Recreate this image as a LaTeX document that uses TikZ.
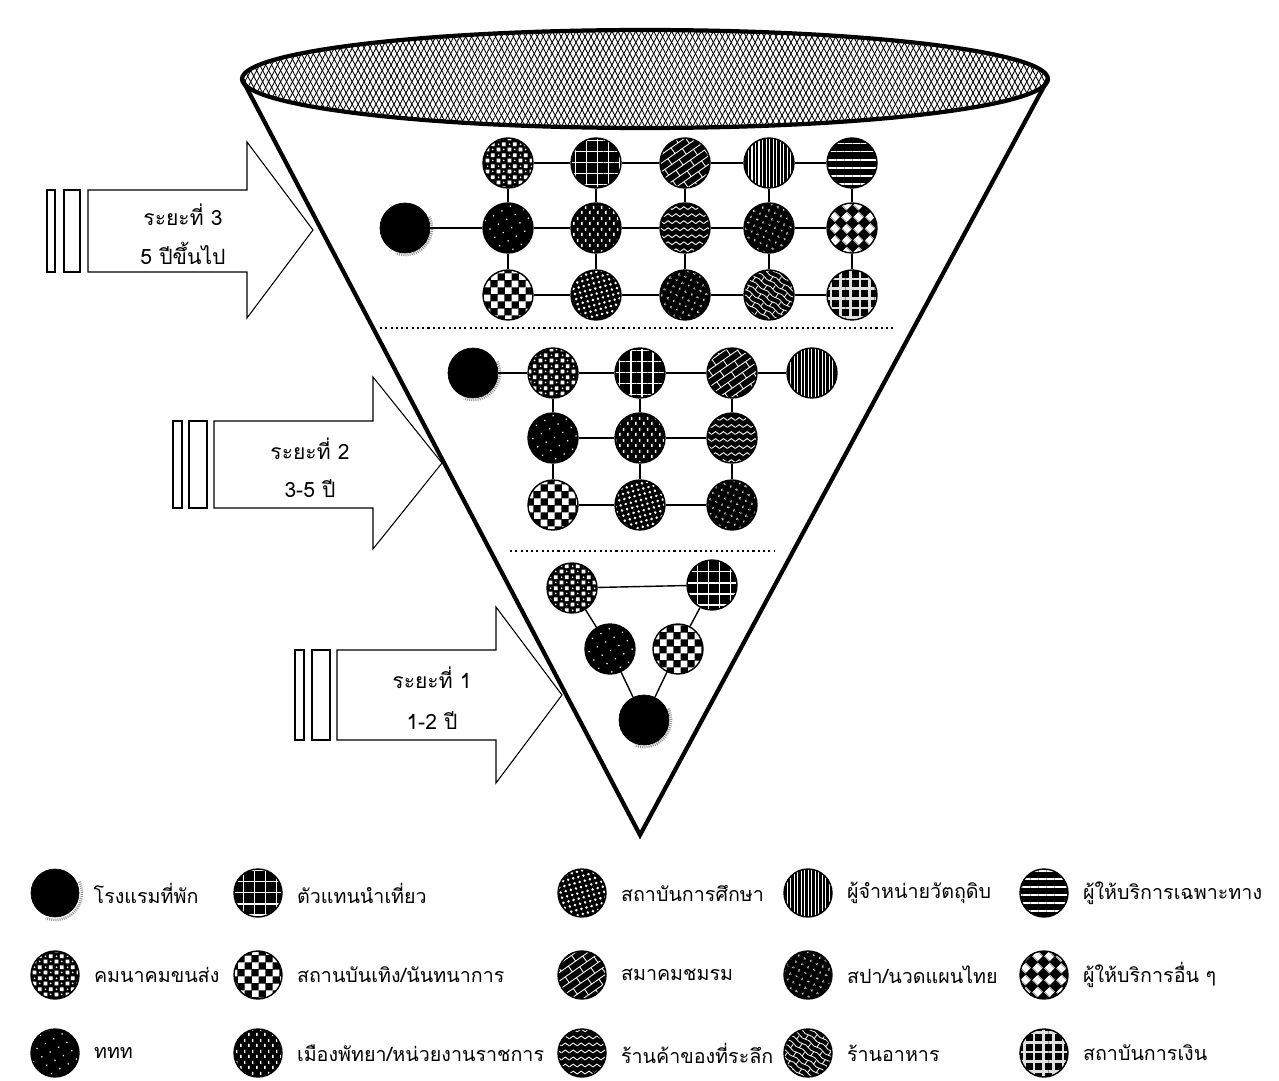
\documentclass[tikz,border=0pt]{standalone}
\usepackage{fontspec}
\newfontfamily\thaifont[Script=Thai]{Loma}
\usetikzlibrary{patterns, patterns.meta, positioning}

% ลายวงกลม (ขาวบนดำ)
\pgfdeclarepattern{
  name=chequer,
  bottom left={\pgfpointorigin},
  top right={\pgfpoint{8pt}{8pt}},
  tile size={\pgfpoint{8pt}{8pt}},
  code={
    \pgfpathrectangle{\pgfpointorigin}{\pgfpoint{4pt}{4pt}}
    \pgfpathrectangle{\pgfpoint{4pt}{4pt}}{\pgfpoint{4pt}{4pt}}
    \pgfusepath{fill}
  }
}
\pgfdeclarepattern{
  name=diamonds,
  bottom left={\pgfpointorigin},
  top right={\pgfpoint{9.6pt}{9.6pt}},
  tile size={\pgfpoint{9.6pt}{9.6pt}},
  tile transformation={\pgftransformrotate{45}},
  code={
    \pgfpathrectangle{\pgfpoint{0.3pt}{0.3pt}}{\pgfpoint{4.2pt}{4.2pt}}
    \pgfpathrectangle{\pgfpoint{5.1pt}{5.1pt}}{\pgfpoint{4.2pt}{4.2pt}}
    \pgfusepath{fill}
  }
}
\pgfdeclarepattern{
  name=confetti,
  bottom left={\pgfpointorigin},
  top right={\pgfpoint{6pt}{6pt}},
  tile size={\pgfpoint{6pt}{6pt}},
  code={
    \pgfpathrectangle{\pgfpoint{0.4pt}{0.4pt}}{\pgfpoint{2.2pt}{2.2pt}}
    \pgfpathrectangle{\pgfpoint{3.4pt}{3.4pt}}{\pgfpoint{2.2pt}{2.2pt}}
    \pgfpathcircle{\pgfpoint{4.5pt}{1.5pt}}{0.55pt}
    \pgfpathcircle{\pgfpoint{1.5pt}{4.5pt}}{0.55pt}
    \pgfusepath{fill}
  }
}
\pgfdeclarepattern{
  name=bricksup,
  bottom left={\pgfpoint{-0.5pt}{-0.5pt}},
  top right={\pgfpoint{10.5pt}{8.5pt}},
  tile size={\pgfpoint{10pt}{8pt}},
  tile transformation={\pgftransformrotate{35}},
  code={
    \pgfsetlinewidth{0.5pt}
    \pgfpathmoveto{\pgfpoint{0pt}{0pt}}\pgfpathlineto{\pgfpoint{10pt}{0pt}}
    \pgfpathmoveto{\pgfpoint{0pt}{4pt}}\pgfpathlineto{\pgfpoint{10pt}{4pt}}
    \pgfpathmoveto{\pgfpoint{2.5pt}{0pt}}\pgfpathlineto{\pgfpoint{2.5pt}{4pt}}
    \pgfpathmoveto{\pgfpoint{7.5pt}{4pt}}\pgfpathlineto{\pgfpoint{7.5pt}{8pt}}
    \pgfusepath{stroke}
  }
}
\pgfdeclarepattern{
  name=bricksdown,
  bottom left={\pgfpoint{-0.5pt}{-0.5pt}},
  top right={\pgfpoint{8.5pt}{6.5pt}},
  tile size={\pgfpoint{8pt}{6pt}},
  tile transformation={\pgftransformrotate{-35}},
  code={
    \pgfsetlinewidth{0.45pt}
    \pgfpathmoveto{\pgfpoint{0pt}{0pt}}\pgfpathlineto{\pgfpoint{4pt}{0.9pt}}\pgfpathlineto{\pgfpoint{8pt}{0pt}}
    \pgfpathmoveto{\pgfpoint{0pt}{3pt}}\pgfpathlineto{\pgfpoint{4pt}{3.9pt}}\pgfpathlineto{\pgfpoint{8pt}{3pt}}
    \pgfpathmoveto{\pgfpoint{1.8pt}{0.4pt}}\pgfpathlineto{\pgfpoint{1.8pt}{3.3pt}}
    \pgfpathmoveto{\pgfpoint{5.8pt}{3.4pt}}\pgfpathlineto{\pgfpoint{5.8pt}{6pt}}
    \pgfusepath{stroke}
  }
}
\pgfdeclarepattern{
  name=zigzag,
  bottom left={\pgfpoint{0pt}{-0.5pt}},
  top right={\pgfpoint{4.5pt}{4pt}},
  tile size={\pgfpoint{4.5pt}{4pt}},
  code={
    \pgfsetlinewidth{0.5pt}
    \pgfpathmoveto{\pgfpoint{0pt}{0pt}}\pgfpathlineto{\pgfpoint{2.25pt}{1.6pt}}\pgfpathlineto{\pgfpoint{4.5pt}{0pt}}
    \pgfusepath{stroke}
  }
}
\pgfdeclarepattern{
  name=dashes,
  bottom left={\pgfpointorigin},
  top right={\pgfpoint{4.4pt}{6pt}},
  tile size={\pgfpoint{4.4pt}{6pt}},
  code={
    \pgfsetlinewidth{0.8pt}
    \pgfpathmoveto{\pgfpoint{1.1pt}{0.6pt}}\pgfpathlineto{\pgfpoint{1.1pt}{2.4pt}}
    \pgfpathmoveto{\pgfpoint{3.3pt}{3.6pt}}\pgfpathlineto{\pgfpoint{3.3pt}{5.4pt}}
    \pgfusepath{stroke}
  }
}
\pgfdeclarepattern{
  name=specks,
  bottom left={\pgfpointorigin},
  top right={\pgfpoint{5.5pt}{5.5pt}},
  tile size={\pgfpoint{5.5pt}{5.5pt}},
  tile transformation={\pgftransformrotate{20}},
  code={
    \pgfsetlinewidth{0.4pt}
    \pgfpathmoveto{\pgfpoint{1.6pt}{1.8pt}}\pgfpathlineto{\pgfpoint{0.8pt}{1.2pt}}\pgfpathlineto{\pgfpoint{1.6pt}{0.6pt}}
    \pgfpathmoveto{\pgfpoint{4.4pt}{4.6pt}}\pgfpathlineto{\pgfpoint{3.6pt}{4pt}}\pgfpathlineto{\pgfpoint{4.4pt}{3.4pt}}
    \pgfusepath{stroke}
  }
}

\tikzset{
  bub/.style={circle, draw=black, line width=0.8pt, minimum size=1cm, inner sep=0pt,
    preaction={fill=black}, pattern color=white},
  small/.style={minimum size=0.96cm},
  pthotel/.style={circle, draw=black, fill=black, minimum size=1cm, inner sep=0pt},
  pttransport/.style={bub, pattern=confetti},
  ptagent/.style={bub, pattern={Hatch[angle=0,distance=6.3pt,line width=0.7pt]}},
  ptschool/.style={bub, pattern={Dots[distance=3pt,radius=0.8pt,angle=15]}},
  ptsupplier/.style={bub, pattern={Lines[angle=90,distance=2pt,line width=0.6pt]}},
  ptspecial/.style={bub, pattern={Lines[angle=0,distance=4.6pt,line width=1pt]}},
  ptfun/.style={bub, pattern=chequer},
  ptclub/.style={bub, pattern=bricksup},
  ptspa/.style={bub, pattern=specks},
  ptother/.style={bub, pattern=diamonds},
  pttat/.style={bub, pattern={Dots[distance=5.5pt,radius=0.5pt,angle=30]}},
  ptgov/.style={bub, pattern=dashes},
  ptshop/.style={bub, pattern=zigzag},
  ptfood/.style={bub, pattern=bricksdown},
  ptbank/.style={bub, pattern={Hatch[angle=0,distance=5.5pt,line width=1.5pt]}, pattern color=black!12},
  link/.style={line width=0.8pt},
  sepline/.style={line width=1.4pt, dash pattern=on 1.2pt off 1.8pt},
  blockarrow/.style={line width=0.6pt},
  stagetxt/.style={font=\thaifont\fontsize{12}{14}\selectfont},
  legtxt/.style={font=\thaifont\fontsize{11.2}{13}\selectfont, anchor=west, inner sep=0pt}
}
\newcommand{\hotelshade}[1]{%
  \draw[black!40, line width=1.5pt, dash pattern=on 0.6pt off 0.6pt]
    ([shift={(25:0.54cm)}]#1.center) arc[start angle=25, end angle=-110, radius=0.54cm];}

\begin{document}
\begin{tikzpicture}[x=0.02cm, y=-0.02cm]
\useasboundingbox (0,0) rectangle (1279,1081);

% ปากกรวย
\fill[pattern={Lines[angle=62,distance=3pt,line width=0.5pt]}] (645,79) ellipse [x radius=8.06cm, y radius=0.98cm];
\fill[pattern={Lines[angle=-62,distance=3pt,line width=0.5pt]}] (645,79) ellipse [x radius=8.06cm, y radius=0.98cm];
\draw[line width=2.4pt] (645,79) ellipse [x radius=8.06cm, y radius=0.98cm];

% กรวย
\draw[line width=2.4pt, line join=miter] (242,79) -- (640,835) -- (1048,79);

% เส้นแบ่งระยะ
\draw[sepline] (380,328) -- (893,328);
\draw[sepline] (510,551) -- (775,551);

% ลูกศรระยะที่ 3
\draw[blockarrow] (47,190) rectangle (55,272);
\draw[blockarrow] (64,190) rectangle (80,272);
\draw[blockarrow] (88,190) -- (247,190) -- (247,142) -- (313,230) -- (247,318) -- (247,272) -- (88,272) -- cycle;
\node[stagetxt] (t3a) at (183,215) {ระยะที่ 3};
\node[stagetxt] (t3b) at (183,253) {5 ปีขึ้นไป};

% ลูกศรระยะที่ 2
\draw[blockarrow] (173,421) rectangle (182,508);
\draw[blockarrow] (189,421) rectangle (207,508);
\draw[blockarrow] (214,421) -- (373,421) -- (373,377) -- (442,463) -- (373,549) -- (373,508) -- (214,508) -- cycle;
\node[stagetxt] (t2a) at (310,449) {ระยะที่ 2};
\node[stagetxt] (t2b) at (310,489) {3-5 ปี};

% ลูกศรระยะที่ 1
\draw[blockarrow] (295,650) rectangle (304,740);
\draw[blockarrow] (312,650) rectangle (330,740);
\draw[blockarrow] (337,650) -- (496,650) -- (496,607) -- (562,695) -- (496,783) -- (496,740) -- (337,740) -- cycle;
\node[stagetxt] (t1a) at (432,678) {ระยะที่ 1};
\node[stagetxt] (t1b) at (432,721) {1-2 ปี};

% ระยะที่ 3
\node[pthotel] (h3) at (405,228) {};
\node[pttransport] (a1) at (508,163) {};
\node[ptagent] (a2) at (596,163) {};
\node[ptclub] (a3) at (685,163) {};
\node[ptsupplier] (a4) at (769,163) {};
\node[ptspecial] (a5) at (852,163) {};
\node[pttat] (b1) at (508,228) {};
\node[ptgov] (b2) at (596,228) {};
\node[ptshop] (b3) at (685,228) {};
\node[ptspa] (b4) at (769,228) {};
\node[ptother] (b5) at (852,228) {};
\node[ptfun] (c1) at (508,295) {};
\node[ptschool] (c2) at (596,295) {};
\node[ptspa] (c3) at (685,295) {};
\node[ptfood] (c4) at (769,295) {};
\node[ptbank] (c5) at (852,295) {};
\hotelshade{h3}
\draw[link] (h3) -- (b1);
\foreach \i/\j in {1/2,2/3,3/4,4/5} {
  \draw[link] (a\i) -- (a\j);
  \draw[link] (b\i) -- (b\j);
  \draw[link] (c\i) -- (c\j);
}
\foreach \i in {1,...,5} {
  \draw[link] (a\i) -- (b\i);
  \draw[link] (b\i) -- (c\i);
}

% ระยะที่ 2
\node[pthotel] (h2) at (473,373) {};
\node[pttransport] (d1) at (553,373) {};
\node[ptagent] (d2) at (640,373) {};
\node[ptclub] (d3) at (732,373) {};
\node[ptsupplier] (d4) at (812,373) {};
\node[pttat] (e1) at (553,438) {};
\node[ptgov] (e2) at (640,438) {};
\node[ptshop] (e3) at (732,438) {};
\node[ptfun] (f1) at (553,505) {};
\node[ptschool] (f2) at (640,505) {};
\node[ptspa] (f3) at (732,505) {};
\hotelshade{h2}
\draw[link] (h2) -- (d1) (d1) -- (d2) (d2) -- (d3) (d3) -- (d4);
\draw[link] (e1) -- (e2) (e2) -- (e3);
\draw[link] (f1) -- (f2) (f2) -- (f3);
\foreach \i in {1,2,3} {
  \draw[link] (d\i) -- (e\i);
  \draw[link] (e\i) -- (f\i);
}

% ระยะที่ 1
\node[pttransport] (g1) at (572,588) {};
\node[ptagent] (g2) at (712,585) {};
\node[pttat] (g3) at (610,649) {};
\node[ptfun] (g4) at (678,649) {};
\node[pthotel] (h1) at (644,720) {};
\hotelshade{h1}
\draw[link] (g1) -- (g2);
\draw[link] (g1) -- (g3) (g3) -- (h1);
\draw[link] (g2) -- (g4) (g4) -- (h1);

% คำอธิบายสัญลักษณ์
\node[pthotel, small] (k1) at (55,893) {};
\hotelshade{k1}
\node[legtxt, right=0.28cm of k1] (k1t) {โรงแรมที่พัก};
\node[ptagent, small] (k2) at (258,893) {};
\node[legtxt, right=0.28cm of k2] (k2t) {ตัวแทนนำเที่ยว};
\node[ptschool, small] (k3) at (582,893) {};
\node[legtxt, right=0.28cm of k3] (k3t) {สถาบันการศึกษา};
\node[ptsupplier, small] (k4) at (808,893) {};
\node[legtxt, right=0.28cm of k4] (k4t) {ผู้จำหน่ายวัตถุดิบ};
\node[ptspecial, small] (k5) at (1044,893) {};
\node[legtxt, right=0.28cm of k5] (k5t) {ผู้ให้บริการเฉพาะทาง};

\node[pttransport, small] (k6) at (55,975) {};
\node[legtxt, right=0.28cm of k6] (k6t) {คมนาคมขนส่ง};
\node[ptfun, small] (k7) at (258,975) {};
\node[legtxt, right=0.28cm of k7] (k7t) {สถานบันเทิง/นันทนาการ};
\node[ptclub, small] (k8) at (582,975) {};
\node[legtxt, right=0.28cm of k8] (k8t) {สมาคมชมรม};
\node[ptspa, small] (k9) at (808,975) {};
\node[legtxt, right=0.28cm of k9] (k9t) {สปา/นวดแผนไทย};
\node[ptother, small] (k10) at (1044,975) {};
\node[legtxt, right=0.28cm of k10] (k10t) {ผู้ให้บริการอื่น ๆ};

\node[pttat, small] (k11) at (55,1053) {};
\node[legtxt, right=0.28cm of k11] (k11t) {ททท};
\node[ptgov, small] (k12) at (258,1053) {};
\node[legtxt, right=0.28cm of k12] (k12t) {เมืองพัทยา/หน่วยงานราชการ};
\node[ptshop, small] (k13) at (582,1053) {};
\node[legtxt, right=0.28cm of k13] (k13t) {ร้านค้าของที่ระลึก};
\node[ptfood, small] (k14) at (808,1053) {};
\node[legtxt, right=0.28cm of k14] (k14t) {ร้านอาหาร};
\node[ptbank, small] (k15) at (1044,1053) {};
\node[legtxt, right=0.28cm of k15] (k15t) {สถาบันการเงิน};

\end{tikzpicture}
\end{document}
